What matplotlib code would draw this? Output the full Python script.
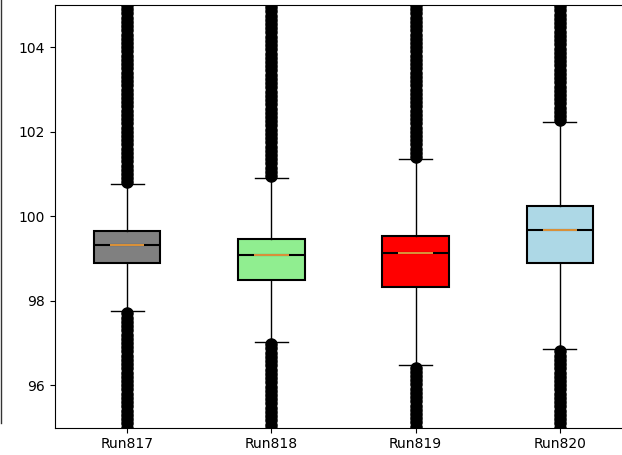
import matplotlib
matplotlib.use('Agg')
import matplotlib.pyplot as plt
from matplotlib.lines import Line2D

labels = ['Run817', 'Run818', 'Run819', 'Run820']
colors = ['gray', 'lightgreen', 'red', 'lightblue']

q1 = [98.89, 98.49, 98.32, 98.89]
med = [99.31, 99.08, 99.12, 99.67]
q3 = [99.64, 99.46, 99.53, 100.24]
whislo = [97.75, 97.02, 96.47, 96.85]
whishi = [100.76, 100.9, 101.35, 102.22]

# outliers (dense columns running off the top and bottom of the view)
fliers_817 = [100.8, 100.9, 101.0, 101.1, 101.2, 101.3, 101.4, 101.5, 101.6, 101.7, 101.8, 101.9,
              102.0, 102.1, 102.2, 102.3, 102.4, 102.5, 102.6, 102.7, 102.8, 102.9,
              103.0, 103.1, 103.2, 103.3, 103.4, 103.5, 103.6, 103.7, 103.8, 103.9,
              104.0, 104.1, 104.2, 104.3, 104.4, 104.5, 104.6, 104.7, 104.8, 104.9, 105.0, 105.1, 105.2,
              97.7, 97.6, 97.5, 97.4, 97.3, 97.2, 97.1, 97.0, 96.9, 96.8, 96.7, 96.6, 96.5, 96.4,
              96.3, 96.2, 96.1, 96.0, 95.9, 95.8, 95.7, 95.6, 95.5, 95.4, 95.3, 95.2, 95.1, 95.0, 94.9]
fliers_818 = [100.95, 101.05, 101.15, 101.25, 101.35, 101.45, 101.55, 101.65, 101.75, 101.85,
              101.95, 102.05, 102.15, 102.25, 102.35, 102.45, 102.55, 102.65, 102.75, 102.85,
              102.95, 103.05, 103.15, 103.25, 103.35, 103.45, 103.55, 103.65, 103.75, 103.85,
              103.95, 104.05, 104.15, 104.25, 104.35, 104.45, 104.55, 104.65, 104.75, 104.85,
              104.95, 105.05, 105.15,
              96.97, 96.87, 96.77, 96.67, 96.57, 96.47, 96.37, 96.27, 96.17, 96.07, 95.97,
              95.87, 95.77, 95.67, 95.57, 95.47, 95.37, 95.27, 95.17, 95.07, 94.97]
fliers_819 = [101.4, 101.5, 101.6, 101.7, 101.8, 101.9, 102.0, 102.1, 102.2, 102.3, 102.4,
              102.5, 102.6, 102.7, 102.8, 102.9, 103.0, 103.1, 103.2, 103.3, 103.4, 103.5,
              103.6, 103.7, 103.8, 103.9, 104.0, 104.1, 104.2, 104.3, 104.4, 104.5, 104.6,
              104.7, 104.8, 104.9, 105.0, 105.1, 105.2,
              96.42, 96.32, 96.22, 96.12, 96.02, 95.92, 95.82, 95.72, 95.62, 95.52, 95.42,
              95.32, 95.22, 95.12, 95.02, 94.92, 94.82]
fliers_820 = [102.27, 102.37, 102.47, 102.57, 102.67, 102.77, 102.87, 102.97, 103.07, 103.17,
              103.27, 103.37, 103.47, 103.57, 103.67, 103.77, 103.87, 103.97, 104.07, 104.17,
              104.27, 104.37, 104.47, 104.57, 104.67, 104.77, 104.87, 104.97, 105.07, 105.17, 105.27,
              96.8, 96.7, 96.6, 96.5, 96.4, 96.3, 96.2, 96.1, 96.0, 95.9, 95.8, 95.7, 95.6,
              95.5, 95.4, 95.3, 95.2, 95.1, 95.0, 94.9, 94.8]
fliers = [fliers_817, fliers_818, fliers_819, fliers_820]

stats = []
for i in range(len(labels)):
    stats.append({'label': labels[i], 'q1': q1[i], 'med': med[i], 'q3': q3[i],
                  'whislo': whislo[i], 'whishi': whishi[i], 'fliers': fliers[i]})

fig = plt.figure(figsize=(6.22, 4.55), dpi=100)
ax = fig.add_axes([55 / 622, 27.5 / 455, 577 / 622, 422.5 / 455])

positions = [1, 2, 3, 4]
bp = ax.bxp(stats, positions=positions, widths=0.46, patch_artist=True,
            boxprops=dict(edgecolor='black', linewidth=1.5),
            medianprops=dict(color='black', linewidth=1.5),
            whiskerprops=dict(color='black', linewidth=1),
            capprops=dict(color='black', linewidth=1),
            flierprops=dict(marker='o', markerfacecolor='black', markeredgecolor='black',
                            markersize=8))
for patch, c in zip(bp['boxes'], colors):
    patch.set_facecolor(c)

# shorter orange median on top
ax.hlines(med, [p - 0.12 for p in positions], [p + 0.12 for p in positions],
          colors='#f0a040', linewidth=1.3, zorder=3)

ax.set_xlim(0.5, 4.5)
ax.set_ylim(95, 105)
ax.set_yticks([96, 98, 100, 102, 104])

fig.add_artist(Line2D([0.002, 0.002], [1, (455 - 423) / 455], color='#333333', linewidth=1))

fig.savefig('out.png', dpi=100)
